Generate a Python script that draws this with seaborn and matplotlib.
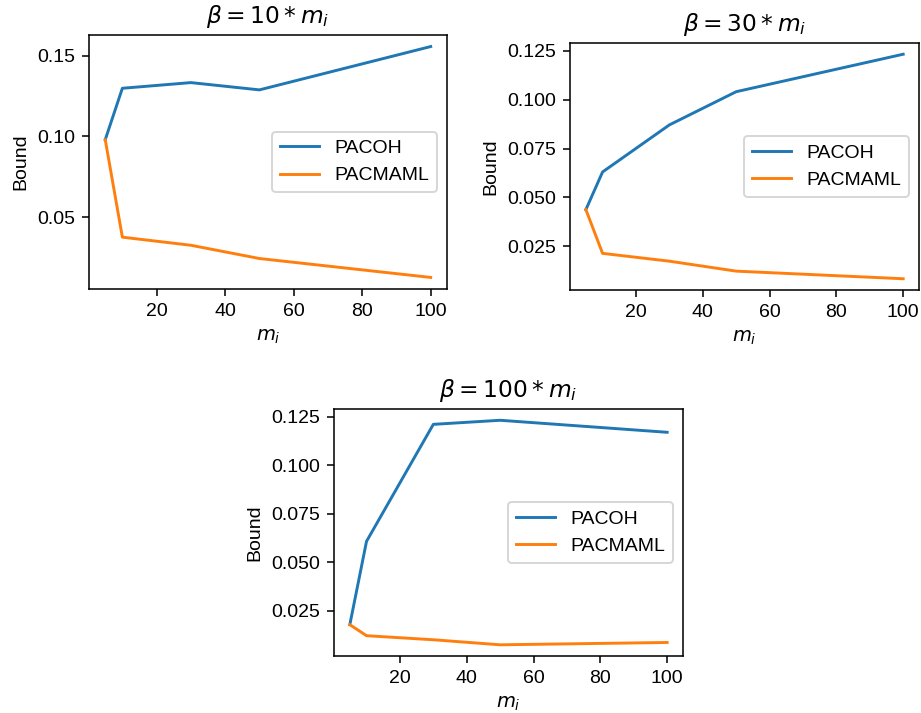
import numpy as np
import pandas as pd
import matplotlib
matplotlib.use("Agg")
import matplotlib.pyplot as plt
from matplotlib.ticker import MultipleLocator
import seaborn as sns

m_i = [5, 10, 30, 50, 100]
methods = ["PACOH", "PACMAML"]
titles = [r"$\beta = 10 * m_i$", r"$\beta = 30 * m_i$", r"$\beta = 100 * m_i$"]

pacoh_10 = [0.0980, 0.1298, 0.1333, 0.1288, 0.1556]
pacmaml_10 = [0.0980, 0.0377, 0.0327, 0.0245, 0.0128]
pacoh_30 = [0.0437, 0.0630, 0.0871, 0.1041, 0.1233]
pacmaml_30 = [0.0437, 0.0213, 0.0173, 0.0122, 0.0083]
pacoh_100 = [0.0178, 0.0608, 0.1212, 0.1233, 0.1171]
pacmaml_100 = [0.0178, 0.0121, 0.0100, 0.0074, 0.0086]

series = [(pacoh_10, pacmaml_10), (pacoh_30, pacmaml_30), (pacoh_100, pacmaml_100)]
ysteps = [0.05, 0.025, 0.025]

plt.rcParams['font.family'] = ['Liberation Sans', 'DejaVu Sans']
plt.rcParams['mathtext.fontset'] = 'dejavusans'

dpi = 140
fig = plt.figure(figsize=(921 / dpi, 713 / dpi), dpi=dpi)
positions = [
    [0.0966, 0.5947, 0.3887, 0.3562],
    [0.6189, 0.5933, 0.3790, 0.3464],
    [0.3626, 0.0799, 0.3790, 0.3464],
]

palette = {"PACOH": "#1f77b4", "PACMAML": "#ff7f0e"}

for pos, title, (p, q), step in zip(positions, titles, series, ysteps):
    ax = fig.add_axes(pos)
    df = pd.DataFrame({
        "m": m_i * 2,
        "Bound": p + q,
        "method": [methods[0]] * len(m_i) + [methods[1]] * len(m_i),
    })
    sns.lineplot(data=df, x="m", y="Bound", hue="method", palette=palette,
                 ax=ax, linewidth=1.5)
    ax.set_title(title, fontsize=12)
    ax.set_xlabel(r"$m_i$")
    ax.set_ylabel("Bound")
    ax.yaxis.set_major_locator(MultipleLocator(step))
    ax.xaxis.set_major_locator(MultipleLocator(20))
    ax.legend(title=None, loc="center right")

fig.savefig("out.png", dpi=dpi)
